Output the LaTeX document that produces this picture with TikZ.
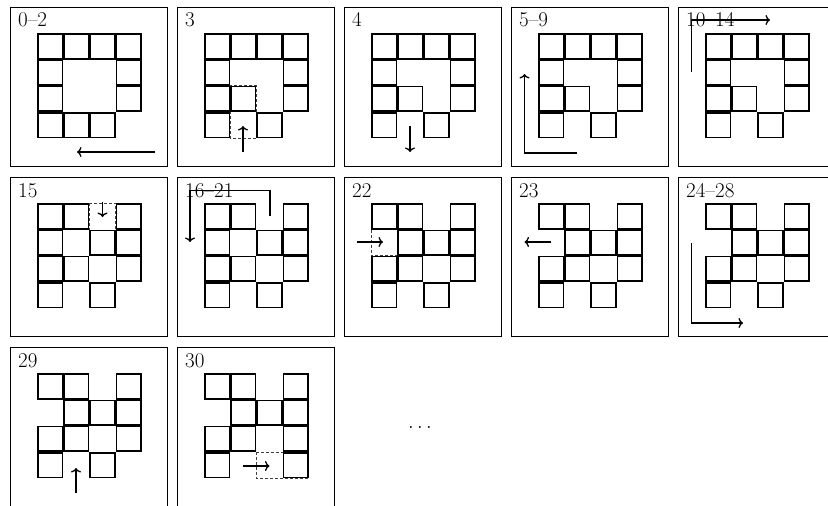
\documentclass[tikz,border=0pt]{standalone}
\usetikzlibrary{arrows.meta}
\newcommand\mypanel[5]{%
 \begin{scope}[shift={(#1,#2)}]
   \draw[frame] (0,0) rectangle (157,159);
   \node[lbl] at (8,20) {#3};
   \begin{scope}[shift={(27,26.3)}]
     #5
     \foreach \c/\r in {#4} {\draw[cellbox] ({\c*26.2+0.8},{\r*26.2+0.8}) rectangle ++(24.6,24.6);}
   \end{scope}
 \end{scope}}
\newcommand\movebx[4]{\draw[movebox] ({#1*26.2},{#2*26.2}) rectangle ({#3*26.2+26.2},{#4*26.2+26.2});}
\begin{document}
\begin{tikzpicture}[x=1pt,y=-1pt,
  cellbox/.style={draw, line width=1.6pt},
  movebox/.style={draw, black!75, line width=0.7pt, dash pattern=on 3pt off 2pt},
  frame/.style={draw, line width=0.6pt},
  mv/.style={line width=1.3pt, -{To[length=4.5pt,width=10pt]}},
  lbl/.style={anchor=base west, inner sep=0pt, font=\fontsize{21}{24}\selectfont}]
\useasboundingbox (0,0) rectangle (828,506);
% row 1
\mypanel{10}{7}{0--2}{0/0,1/0,2/0,3/0,0/1,3/1,0/2,3/2,0/3,1/3,2/3}{}
\mypanel{177}{7}{3}{0/0,1/0,2/0,3/0,0/1,3/1,0/2,1/2,3/2,0/3,2/3}{\movebx{1}{2}{1}{3}}
\mypanel{344}{7}{4}{0/0,1/0,2/0,3/0,0/1,3/1,0/2,1/2,3/2,0/3,2/3}{}
\mypanel{511}{7}{5--9}{0/0,1/0,2/0,3/0,0/1,3/1,0/2,1/2,3/2,0/3,2/3}{}
\mypanel{678}{7}{10--14}{0/0,1/0,2/0,3/0,0/1,3/1,0/2,1/2,3/2,0/3,2/3}{}
% row 2
\mypanel{10}{177}{15}{0/0,1/0,3/0,0/1,2/1,3/1,0/2,1/2,3/2,0/3,2/3}{\movebx{2}{0}{2}{1}}
\mypanel{177}{177}{16--21}{0/0,1/0,3/0,0/1,2/1,3/1,0/2,1/2,3/2,0/3,2/3}{}
\mypanel{344}{177}{22}{0/0,1/0,3/0,1/1,2/1,3/1,0/2,1/2,3/2,0/3,2/3}{\movebx{0}{1}{1}{1}}
\mypanel{511}{177}{23}{0/0,1/0,3/0,1/1,2/1,3/1,0/2,1/2,3/2,0/3,2/3}{}
\mypanel{678}{177}{24--28}{0/0,1/0,3/0,1/1,2/1,3/1,0/2,1/2,3/2,0/3,2/3}{}
% row 3
\mypanel{10}{347}{29}{0/0,1/0,3/0,1/1,2/1,3/1,0/2,1/2,3/2,0/3,2/3}{}
\mypanel{177}{347}{30}{0/0,1/0,3/0,1/1,2/1,3/1,0/2,1/2,3/2,0/3,3/3}{\movebx{2}{3}{3}{3}}
% move arrows
\coordinate (a1s) at (155,152); \coordinate (a1e) at (77,152);
\draw[mv] (a1s) -- (a1e);
\coordinate (a3s) at (243,152); \coordinate (a3e) at (243,126);
\draw[mv] (a3s) -- (a3e);
\coordinate (a4s) at (410,126); \coordinate (a4e) at (410,152);
\draw[mv] (a4s) -- (a4e);
\coordinate (a5s) at (577,153); \coordinate (a5c) at (524.5,153); \coordinate (a5e) at (524.5,74);
\draw[mv] (a5s) -- (a5c) -- (a5e);
\coordinate (a10s) at (691.5,72); \coordinate (a10c) at (691.5,20); \coordinate (a10e) at (770,20);
\draw[mv] (a10s) -- (a10c) -- (a10e);
\coordinate (a15s) at (102.5,202); \coordinate (a15e) at (102.5,217);
\draw[mv] (a15s) -- (a15e);
\coordinate (a16s) at (270,216); \coordinate (a16c) at (270,190.7); \coordinate (a16d) at (190,190.7); \coordinate (a16e) at (190,242);
\draw[mv] (a16s) -- (a16c) -- (a16d) -- (a16e);
\coordinate (a22s) at (357,242); \coordinate (a22e) at (383,242);
\draw[mv] (a22s) -- (a22e);
\coordinate (a23s) at (551,242); \coordinate (a23e) at (524.5,242);
\draw[mv] (a23s) -- (a23e);
\coordinate (a24s) at (691.5,243); \coordinate (a24c) at (691.5,323); \coordinate (a24e) at (743,323);
\draw[mv] (a24s) -- (a24c) -- (a24e);
\coordinate (a29s) at (76,493); \coordinate (a29e) at (76,468);
\draw[mv] (a29s) -- (a29e);
\coordinate (a30s) at (243,466); \coordinate (a30e) at (269.5,466);
\draw[mv] (a30s) -- (a30e);
\node[anchor=base, inner sep=0pt, font=\fontsize{21}{24}\selectfont] (dots) at (420,428) {$\ldots$};
\end{tikzpicture}
\end{document}
